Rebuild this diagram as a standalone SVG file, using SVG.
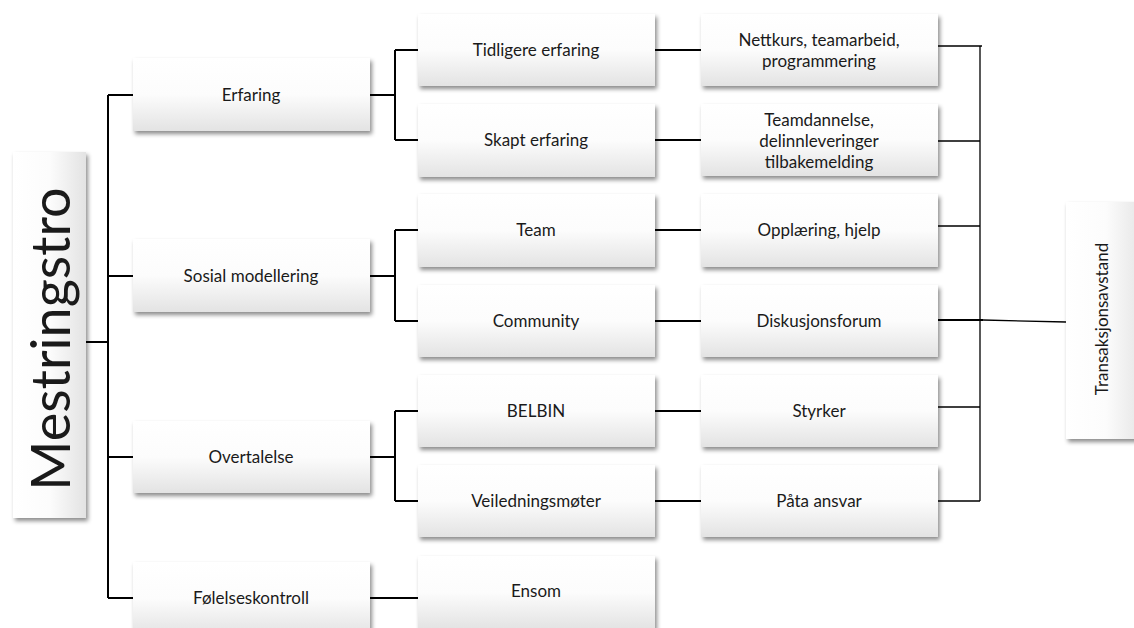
<svg xmlns="http://www.w3.org/2000/svg" width="1134" height="628" viewBox="0 0 1134 628">
<defs>
<linearGradient id="g" x1="0" y1="0" x2="0" y2="1">
<stop offset="0" stop-color="#ffffff"/>
<stop offset="0.5" stop-color="#fcfcfc"/>
<stop offset="1" stop-color="#e3e3e3"/>
</linearGradient>
<linearGradient id="gh" x1="0" y1="0" x2="1" y2="0">
<stop offset="0" stop-color="#ffffff"/>
<stop offset="0.5" stop-color="#fcfcfc"/>
<stop offset="1" stop-color="#e3e3e3"/>
</linearGradient>
<filter id="sh" x="-10%" y="-10%" width="130%" height="140%">
<feDropShadow dx="2" dy="3" stdDeviation="2.2" flood-color="#000" flood-opacity="0.45"/>
</filter>
</defs>
<style>
.box{fill:url(#g);filter:url(#sh)}
.t{font-family:Lato,"Open Sans","Liberation Sans",sans-serif;font-size:17px;fill:#1a1a1a;text-anchor:middle}
.c{stroke:#000;stroke-width:2;fill:none}
.r{stroke:#000;stroke-width:1.3;fill:none}
</style>
<rect width="1134" height="628" fill="#fff"/>
<g id="connectors">
<path class="c" d="M86 342H108M108 95V598M108 95H133M108 276H133M108 457H133M108 598H133"/>
<path class="c" d="M370 95H395M395 50V140M395 50H418M395 140H418"/>
<path class="c" d="M370 276H395M395 230V321M395 230H418M395 321H418"/>
<path class="c" d="M370 457H395M395 411V501M395 411H418M395 501H418"/>
<path class="c" d="M370 598H418"/>
<path class="c" d="M655 50H701M655 140H701M655 230H701M655 321H701M655 411H701M655 501H701"/>
<path class="r" d="M938 46H982M980 46V501M938 141H980M938 226H980M938 407H980M938 501H980"/>
<path class="c" d="M938 320H983" stroke-width="2.2"/>
<path class="r" d="M983 320L1066 322"/>
</g>
<g id="n-mestringstro">
<rect x="13" y="152" width="73" height="366" fill="url(#gh)" filter="url(#sh)"/>
<text class="t" transform="translate(70 339) rotate(-90)" style="font-size:54px">Mestringstro</text>
</g>
<g id="n-erfaring"><rect class="box" x="133" y="58" width="237" height="73"/><text class="t" x="251" y="101">Erfaring</text></g>
<g id="n-sosial"><rect class="box" x="133" y="239" width="237" height="73"/><text class="t" x="251" y="282">Sosial modellering</text></g>
<g id="n-overtalelse"><rect class="box" x="133" y="421" width="237" height="72"/><text class="t" x="251" y="463">Overtalelse</text></g>
<g id="n-folelse"><rect class="box" x="133" y="562" width="237" height="73"/><text class="t" x="251" y="604">Følelseskontroll</text></g>
<g id="n-tidligere"><rect class="box" x="418" y="14" width="237" height="72"/><text class="t" x="536" y="56">Tidligere erfaring</text></g>
<g id="n-skapt"><rect class="box" x="418" y="104" width="237" height="73"/><text class="t" x="536" y="146">Skapt erfaring</text></g>
<g id="n-team"><rect class="box" x="418" y="194" width="237" height="73"/><text class="t" x="536" y="236">Team</text></g>
<g id="n-community"><rect class="box" x="418" y="285" width="237" height="72"/><text class="t" x="536" y="327">Community</text></g>
<g id="n-belbin"><rect class="box" x="418" y="375" width="237" height="72"/><text class="t" x="536" y="417">BELBIN</text></g>
<g id="n-veiledning"><rect class="box" x="418" y="465" width="237" height="72"/><text class="t" x="536" y="507">Veiledningsmøter</text></g>
<g id="n-ensom"><rect class="box" x="418" y="556" width="237" height="73"/><text class="t" x="536" y="597">Ensom</text></g>
<g id="n-nettkurs"><rect class="box" x="701" y="14" width="237" height="72"/><text class="t" x="819" y="46">Nettkurs, teamarbeid,</text><text class="t" x="819" y="67">programmering</text></g>
<g id="n-teamdannelse"><rect class="box" x="701" y="104" width="237" height="72"/><text class="t" x="819" y="126">Teamdannelse,</text><text class="t" x="819" y="147">delinnleveringer</text><text class="t" x="819" y="168">tilbakemelding</text></g>
<g id="n-opplaering"><rect class="box" x="701" y="194" width="237" height="73"/><text class="t" x="819" y="236">Opplæring, hjelp</text></g>
<g id="n-diskusjon"><rect class="box" x="701" y="285" width="237" height="72"/><text class="t" x="819" y="327">Diskusjonsforum</text></g>
<g id="n-styrker"><rect class="box" x="701" y="375" width="237" height="72"/><text class="t" x="819" y="417">Styrker</text></g>
<g id="n-paata"><rect class="box" x="701" y="465" width="237" height="72"/><text class="t" x="819" y="507">Påta ansvar</text></g>
<g id="n-transaksjon">
<rect x="1066" y="202" width="80" height="237" fill="url(#gh)" filter="url(#sh)"/>
<text class="t" transform="translate(1108 319) rotate(-90)" style="font-size:17px">Transaksjonsavstand</text>
</g>
</svg>
